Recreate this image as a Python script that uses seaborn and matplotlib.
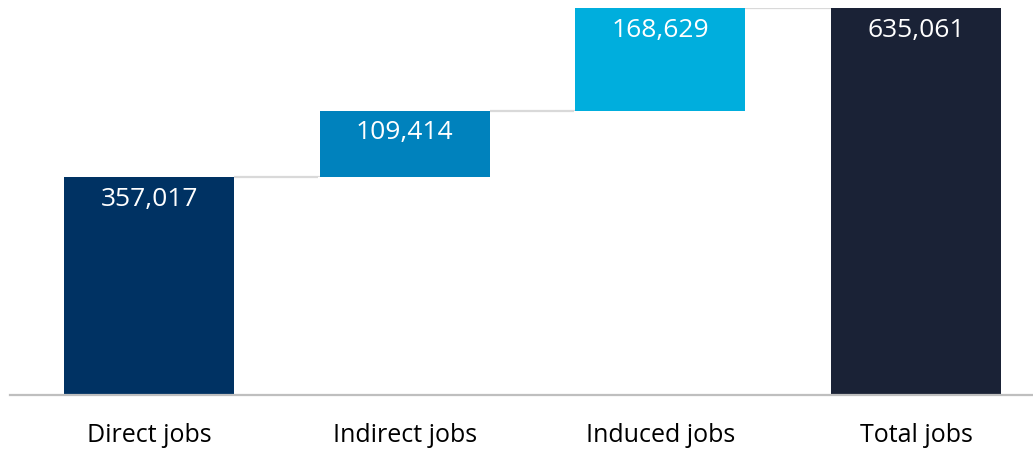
import numpy as np
import pandas as pd
import seaborn as sns
import matplotlib.pyplot as plt

categories = ["Direct jobs", "Indirect jobs", "Induced jobs", "Total jobs"]
values = [357017, 109414, 168629, 635061]
colors = ["#003263", "#0082BD", "#00AEDD", "#1A2236"]

# waterfall: steps stack on each other, the total starts from zero
steps = values[:-1]
tops = list(np.cumsum(steps)) + [values[-1]]
bases = [0] + list(np.cumsum(steps)[:-1]) + [0]

df = pd.DataFrame({"category": categories, "top": tops, "base": bases, "value": values})

sns.set_style("white")
plt.rcParams["font.family"] = ["Open Sans", "DejaVu Sans"]

fig = plt.figure(figsize=(10.33, 4.5), dpi=100)
ax = fig.add_axes([10 / 1033, 1 - 395 / 450, 1023 / 1033, (395 - 8) / 450])

width = 0.665
sns.barplot(data=df, x="category", y="top", hue="category", palette=colors,
            width=width, saturation=1, legend=False, ax=ax, linewidth=0)
# blank out the part below each floating bar
sns.barplot(data=df, x="category", y="base", color="white",
            width=width + 0.01, saturation=1, ax=ax, linewidth=0)

# connectors between bars
for i in range(len(categories) - 1):
    ax.hlines(tops[i], i + width / 2, i + 1 - width / 2, color="#D9D9D9", lw=1.6, zorder=0)

for i, row in df.iterrows():
    ax.annotate(f"{row['value']:,}", (i, row["top"]), xytext=(0, -16),
                textcoords="offset points", ha="center", va="center",
                color="white", fontsize=19)

ax.set_xlim(-0.544, 3.457)
ax.set_ylim(0, values[-1])
ax.set_xlabel("")
ax.set_ylabel("")
ax.set_yticks([])
for s in ["top", "right", "left"]:
    ax.spines[s].set_visible(False)
ax.spines["bottom"].set_color("#BFBFBF")
ax.spines["bottom"].set_linewidth(1.6)
ax.tick_params(axis="x", length=0, labelsize=18, pad=20.5, colors="black")

fig.savefig("out.png", dpi=100)
